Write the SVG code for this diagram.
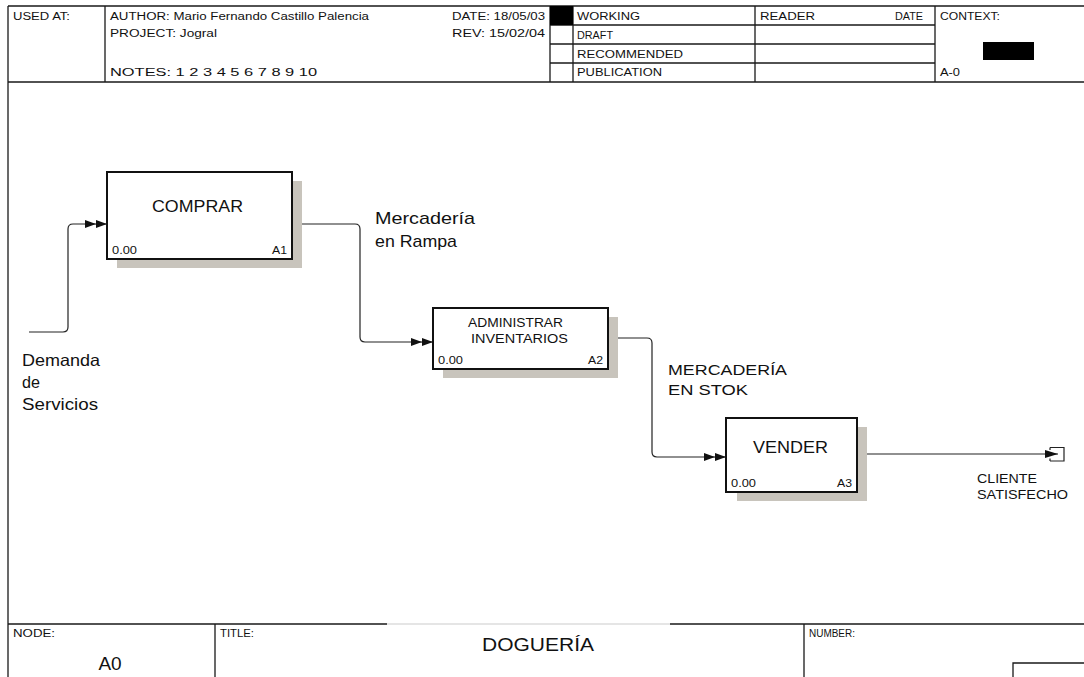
<svg xmlns="http://www.w3.org/2000/svg" width="1084" height="677" viewBox="0 0 1084 677">
<defs>
<style>
.frame{stroke:#1a1a1a;stroke-width:1.3;fill:none}
.hdr{font-family:"Liberation Sans",Arial,sans-serif;font-size:10px;fill:#111}
.lbl{font-family:"Liberation Sans",Arial,sans-serif;fill:#111}
.box{fill:#fff;stroke:#111;stroke-width:2}
.shadow{fill:#c8c4bc}
.conn{fill:none;stroke:#222;stroke-width:1.2}
.small{font-family:"Liberation Sans",Arial,sans-serif;font-size:11px;fill:#111}
</style>
<marker id="dbl" viewBox="0 0 22 8" refX="22" refY="4" markerWidth="22" markerHeight="8" markerUnits="userSpaceOnUse" orient="auto">
<path d="M0,0 L11,4 L0,8 Z M11,0 L22,4 L11,8 Z" fill="#111"/>
</marker>
</defs>
<rect width="1084" height="677" fill="#fff"/>

<g id="header">
<path class="frame" d="M8,6 H1084 M8,6 V677 M8,82 H1084 M105,6 V82 M550,6 V82 M573,6 V82 M755,6 V82 M935,6 V82 M550,25 H935 M550,44 H935 M550,63 H935"/>
<rect x="550" y="6" width="23" height="19" fill="#000"/>
<rect x="983" y="42" width="51" height="18" fill="#000"/>
<text class="hdr" x="13" y="19.5" textLength="57" lengthAdjust="spacingAndGlyphs">USED AT:</text>
<text class="hdr" x="110" y="19.5" textLength="259" lengthAdjust="spacingAndGlyphs">AUTHOR:  Mario Fernando Castillo Palencia</text>
<text class="hdr" x="110" y="37" textLength="107" lengthAdjust="spacingAndGlyphs">PROJECT:  Jogral</text>
<text class="hdr" x="110" y="76" textLength="207" lengthAdjust="spacingAndGlyphs">NOTES:  1  2  3  4  5  6  7  8  9  10</text>
<text class="hdr" x="452" y="19.5" textLength="93" lengthAdjust="spacingAndGlyphs">DATE: 18/05/03</text>
<text class="hdr" x="452" y="37" textLength="93" lengthAdjust="spacingAndGlyphs">REV:   15/02/04</text>
<text class="hdr" x="577" y="19.5" textLength="63" lengthAdjust="spacingAndGlyphs">WORKING</text>
<text class="hdr" x="577" y="39" textLength="36" lengthAdjust="spacingAndGlyphs">DRAFT</text>
<text class="hdr" x="577" y="58" textLength="106" lengthAdjust="spacingAndGlyphs">RECOMMENDED</text>
<text class="hdr" x="577" y="76" textLength="85" lengthAdjust="spacingAndGlyphs">PUBLICATION</text>
<text class="hdr" x="760" y="19.5" textLength="55" lengthAdjust="spacingAndGlyphs">READER</text>
<text class="hdr" x="895" y="19.5" textLength="28" lengthAdjust="spacingAndGlyphs">DATE</text>
<text class="hdr" x="940" y="19.5" textLength="60" lengthAdjust="spacingAndGlyphs">CONTEXT:</text>
<text class="hdr" x="940" y="76" textLength="20" lengthAdjust="spacingAndGlyphs">A-0</text>
</g>

<g id="connectors">
<path class="conn" d="M29,332 H63 Q68,332 68,327 V229 Q68,224 73,224 H107" marker-end="url(#dbl)"/>
<path class="conn" d="M292,224 H355 Q360,224 360,229 V337 Q360,342 365,342 H433" marker-end="url(#dbl)"/>
<path class="conn" d="M608,338 H647 Q652,338 652,343 V452 Q652,457 657,457 H726" marker-end="url(#dbl)"/>
<path class="conn" d="M857,454 H1058"/>
<path d="M1045,450 L1058,454 L1045,458 Z" fill="#111"/>
<path class="conn" d="M1050,447.5 H1064 V461 H1050 M1050,447.5 V450 M1050,461 V458.5"/>
</g>

<g id="A1">
<rect class="shadow" x="117" y="181" width="185" height="87"/>
<rect class="box" x="107" y="172" width="185" height="87"/>
<text class="lbl" x="152" y="212" font-size="17" textLength="91" lengthAdjust="spacingAndGlyphs">COMPRAR</text>
<text class="small" x="112" y="254" textLength="25" lengthAdjust="spacingAndGlyphs">0.00</text>
<text class="small" x="272" y="254" textLength="15" lengthAdjust="spacingAndGlyphs">A1</text>
</g>

<g id="A2">
<rect class="shadow" x="443" y="317" width="175" height="61"/>
<rect class="box" x="433" y="308" width="175" height="61"/>
<text class="lbl" x="468" y="327" font-size="13" textLength="95" lengthAdjust="spacingAndGlyphs">ADMINISTRAR</text>
<text class="lbl" x="471" y="343" font-size="13" textLength="97" lengthAdjust="spacingAndGlyphs">INVENTARIOS</text>
<text class="small" x="438" y="364" textLength="25" lengthAdjust="spacingAndGlyphs">0.00</text>
<text class="small" x="588" y="364" textLength="15" lengthAdjust="spacingAndGlyphs">A2</text>
</g>

<g id="A3">
<rect class="shadow" x="737" y="427" width="130" height="74"/>
<rect class="box" x="726" y="418" width="131" height="74"/>
<text class="lbl" x="753" y="453" font-size="16.5" textLength="75" lengthAdjust="spacingAndGlyphs">VENDER</text>
<text class="small" x="731" y="487" textLength="25" lengthAdjust="spacingAndGlyphs">0.00</text>
<text class="small" x="837" y="487" textLength="15" lengthAdjust="spacingAndGlyphs">A3</text>
</g>

<g id="labels">
<text class="lbl" font-size="16.5"><tspan x="22" y="366" textLength="78" lengthAdjust="spacingAndGlyphs">Demanda</tspan><tspan x="22" y="388" textLength="18" lengthAdjust="spacingAndGlyphs">de</tspan><tspan x="22" y="410" textLength="76" lengthAdjust="spacingAndGlyphs">Servicios</tspan></text>
<text class="lbl" font-size="17"><tspan x="375" y="224" textLength="100" lengthAdjust="spacingAndGlyphs">Mercadería</tspan><tspan x="375" y="247" textLength="82" lengthAdjust="spacingAndGlyphs">en Rampa</tspan></text>
<text class="lbl" font-size="15"><tspan x="668" y="375" textLength="119" lengthAdjust="spacingAndGlyphs">MERCADERÍA</tspan><tspan x="668" y="395" textLength="80" lengthAdjust="spacingAndGlyphs">EN STOK</tspan></text>
<text class="lbl" font-size="13"><tspan x="977" y="483" textLength="60" lengthAdjust="spacingAndGlyphs">CLIENTE</tspan><tspan x="977" y="499" textLength="91" lengthAdjust="spacingAndGlyphs">SATISFECHO</tspan></text>
</g>

<g id="footer">
<path class="frame" d="M8,624 H387 M670,624 H1084 M215,624 V677 M804,624 V677 M1013,677 V663 H1084"/>
<path d="M387,624 H670" stroke="#ddd" stroke-width="1.3"/>
<text class="hdr" x="13" y="637" textLength="42" lengthAdjust="spacingAndGlyphs">NODE:</text>
<text class="hdr" x="220" y="637" textLength="34" lengthAdjust="spacingAndGlyphs">TITLE:</text>
<text class="hdr" x="809" y="637" textLength="46" lengthAdjust="spacingAndGlyphs">NUMBER:</text>
<text class="lbl" x="110" y="670" font-size="19" text-anchor="middle">A0</text>
<text class="lbl" x="482" y="651" font-size="19" textLength="112" lengthAdjust="spacingAndGlyphs">DOGUERÍA</text>
</g>
</svg>
